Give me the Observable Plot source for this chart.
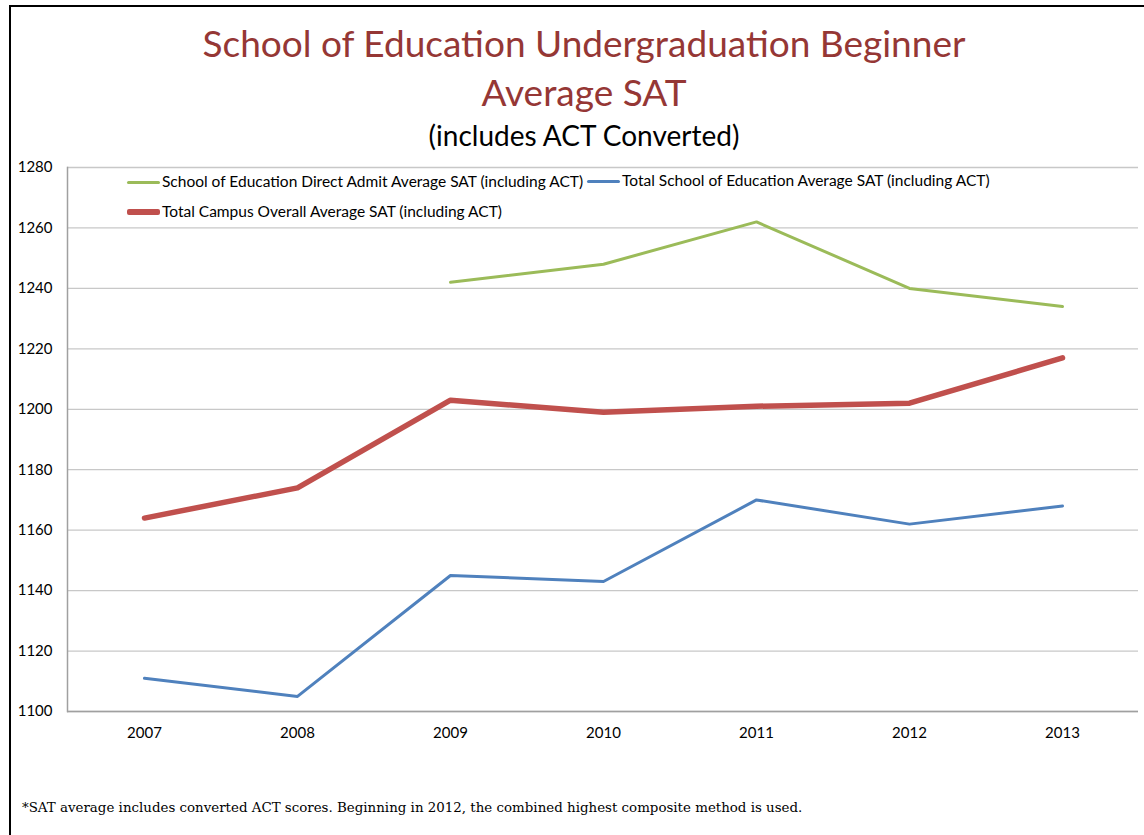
<!DOCTYPE html>
<html><head><meta charset="utf-8">
<script src="https://cdn.jsdelivr.net/npm/d3@7"></script>
<script src="https://cdn.jsdelivr.net/npm/@observablehq/plot@0.6"></script>
<style>
html,body{margin:0;padding:0;background:#fff;}
#page{position:relative;width:1144px;height:835px;overflow:hidden;font-family:Lato,"Open Sans",sans-serif;}
#bl{position:absolute;left:9px;top:5px;width:2px;height:830px;background:#000;}
#bt{position:absolute;left:9px;top:5px;width:1135px;height:2px;background:#000;}
.t1{position:absolute;left:0;width:1168px;text-align:center;color:#953735;font-size:37px;line-height:42px;}
.t3{position:absolute;left:0;width:1168px;text-align:center;color:#000;font-size:28px;line-height:32px;}
#chart{position:absolute;left:0;top:150px;}
.leg{position:absolute;font-size:15.5px;color:#000;white-space:nowrap;line-height:18px;}
.sw{position:absolute;}
#foot{position:absolute;left:22px;top:800px;font-family:"DejaVu Serif","Liberation Serif",serif;font-size:13.4px;color:#000;white-space:nowrap;}
</style></head>
<body><div id="page">
<div id="bt"></div><div id="bl"></div>
<div class="t1" style="top:22px">School of Education Undergraduation Beginner</div>
<div class="t1" style="top:71px">Average SAT</div>
<div class="t3" style="top:119px">(includes ACT Converted)</div>
<div id="chart"></div>
<div id="legend"></div>
<div id="foot">*SAT average includes converted ACT scores. Beginning in 2012, the combined highest composite method is used.</div>
</div>
<script>
const years = ["2007","2008","2009","2010","2011","2012","2013"];
const directAdmit = [null, null, 1242, 1248, 1262, 1240, 1234];
const totalSOE = [1111, 1105, 1145, 1143, 1170, 1162, 1168];
const totalCampus = [1164, 1174, 1203, 1199, 1201, 1202, 1217];
const yTicks = [1100, 1120, 1140, 1160, 1180, 1200, 1220, 1240, 1260, 1280];
const seriesNames = [
  "School of Education Direct Admit Average SAT (including ACT)",
  "Total School of Education Average SAT (including ACT)",
  "Total Campus Overall Average SAT (including ACT)"
];
const colors = ["#9BBB59", "#4F81BD", "#C0504D"];
const widths = [3, 3, 5.5];

const toRows = (vals) => years.map((y, i) => ({year: y, value: vals[i]})).filter(d => d.value != null);

const chart = Plot.plot({
  width: 1144, height: 600,
  marginTop: 17, marginBottom: 39, marginLeft: 67, marginRight: 6,
  style: {fontFamily: "Lato, 'Open Sans', sans-serif", fontSize: "15px", color: "#000", background: "transparent"},
  x: {type: "point", domain: years, padding: 0.5, label: null},
  y: {domain: [1100, 1280], ticks: yTicks, label: null},
  marks: [
    Plot.gridY(yTicks, {stroke: "#c8c8c8", strokeOpacity: 1, strokeWidth: 1.3}),
    Plot.frame({anchor: "left", stroke: "#a0a0a0", strokeWidth: 1.5}),
    Plot.ruleY([1100], {stroke: "#a0a0a0", strokeWidth: 1.5}),
    Plot.axisY(yTicks, {tickSize: 0, tickPadding: 15, fontSize: 15, tickFormat: d3.format("d"), label: null}),
    Plot.axisX(years, {tickSize: 0, tickPadding: 16, fontSize: 15, label: null}),
    Plot.line(toRows(directAdmit), {x: "year", y: "value", stroke: colors[0], strokeWidth: widths[0]}),
    Plot.line(toRows(totalSOE), {x: "year", y: "value", stroke: colors[1], strokeWidth: widths[1]}),
    Plot.line(toRows(totalCampus), {x: "year", y: "value", stroke: colors[2], strokeWidth: widths[2]})
  ]
});
document.getElementById("chart").appendChild(chart);

const legPos = [{x: 127, y: 182}, {x: 587, y: 181}, {x: 127, y: 212}];
const legend = document.getElementById("legend");
seriesNames.forEach((name, i) => {
  const sw = document.createElement("div");
  sw.className = "sw";
  sw.style.left = legPos[i].x + "px";
  sw.style.top = (legPos[i].y - widths[i] / 2) + "px";
  sw.style.width = "33px";
  sw.style.height = widths[i] + "px";
  sw.style.background = colors[i];
  sw.style.borderRadius = "2px";
  legend.appendChild(sw);
  const t = document.createElement("div");
  t.className = "leg";
  t.style.left = (legPos[i].x + 35) + "px";
  t.style.top = (legPos[i].y - 10) + "px";
  t.textContent = name;
  legend.appendChild(t);
});
</script>
</body></html>
